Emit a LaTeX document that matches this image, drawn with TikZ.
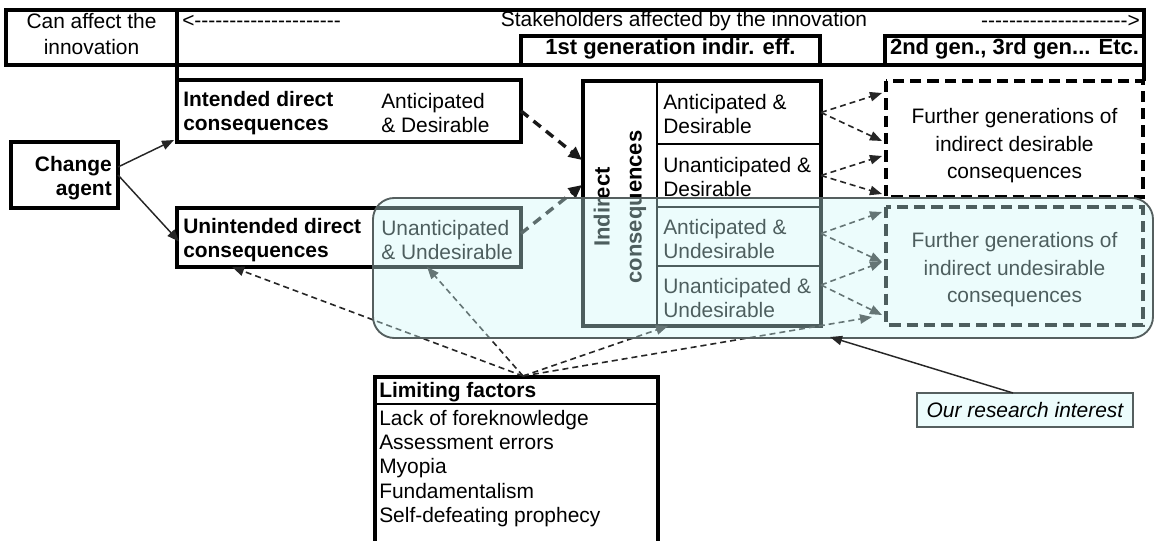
\documentclass[tikz,border=0pt]{standalone}
\usepackage{fontspec}
\setmainfont{Liberation Sans}
\usetikzlibrary{arrows.meta,calc,fit}
\definecolor{cyanfill}{RGB}{205,248,248}
\definecolor{bluebg}{RGB}{236,252,252}
\definecolor{rimgray}{RGB}{85,95,95}
\newcommand\fsz{\fontsize{15.7}{18}\selectfont}
\newcommand\hyp{-\kern0pt}
\newcommand\tenhyp{\hyp\hyp\hyp\hyp\hyp\hyp\hyp\hyp\hyp\hyp}
% named box: fit node + explicit border
\newcommand\bx[3]{\node[fit={#2}, inner sep=0pt, outer sep=0pt] (#1) {};
  \draw[#3] (#1.north west) rectangle (#1.south east);}
\begin{document}
\begin{tikzpicture}[x=0.75pt,y=-0.75pt,
  every node/.style={inner sep=0pt, font=\fsz},
  frame/.style={line width=2.5pt},
  thinframe/.style={line width=1.2pt},
  dframe/.style={line width=2.4pt, dash pattern=on 8.5pt off 4.5pt},
  txt/.style={anchor=west, align=left},
  boldtxt/.style={anchor=west, align=left, font=\fsz\bfseries},
  hdbold/.style={font=\fontsize{16.5}{18}\selectfont\bfseries},
  solidarr/.style={draw=black!85, line width=1.1pt, -{Triangle[length=9pt,width=7pt]}},
  thickdash/.style={draw=black!90, line width=2.6pt, dash pattern=on 7pt off 5pt, -{Triangle[length=10pt,width=9pt]}},
  thindash/.style={draw=black!85, line width=1.2pt, dash pattern=on 4.5pt off 3pt, -{Triangle[length=9pt,width=7pt]}},
]
\useasboundingbox (0,0) rectangle (1154,541);

% ---------- header ----------
\bx{header}{(6,10)(1144,65)}{frame}
\bx{affect}{(6,10)(177,65)}{frame}
\node (affect1) at (91.5,21) {Can affect the};
\node (affect2) at (91.5,47) {innovation};
\node[txt] (larr) at (182,21) {<\tenhyp\tenhyp\hyp};
\node (stake) at (684,21) {Stakeholders affected by the innovation};
\node[anchor=east] (rarr) at (1140,21) {\tenhyp\tenhyp\hyp>};
\bx{gen1}{(521,36)(820,65)}{frame}
\node[hdbold] (gen1t) at (670.5,49) {1st generation indir. eff.};
\bx{gen2}{(885,36)(1144,65)}{frame}
\node[hdbold] (gen2t) at (1014.5,49) {2nd gen., 3rd gen... Etc.};

% ---------- direct consequences ----------
\bx{change}{(11,142)(118,208)}{frame}
\node[anchor=east, align=right, font=\fsz\bfseries] (changet) at (112,178) {Change\\agent};

\bx{intended}{(177,80)(521,142)}{frame}
\node[boldtxt] (intt) at (183,113) {Intended direct\\consequences};
\node[txt] (intq) at (381,113) {Anticipated\\\& Desirable};

\bx{unintended}{(177,208)(521,267)}{frame}
\node[boldtxt] (unintt) at (183,240) {Unintended direct\\consequences};
\node[txt] (unintq) at (381,240) {Unanticipated\\\& Undesirable};

\draw[frame] (affect.south east) -- (intended.north west);
\draw[frame] (header.south east) -- ($(header.south east)+(0,16)$);

% ---------- indirect consequences ----------
\bx{r1}{(657,81)(821,144)}{thinframe}
\bx{r2}{(657,144)(821,207)}{thinframe}
\bx{r3}{(657,207)(821,266)}{thinframe}
\bx{r4}{(657,266)(821,326)}{thinframe}
\bx{indirect}{(583,81)(821,326)}{frame}
\node[rotate=90, align=center, font=\fontsize{16.5}{24}\selectfont\bfseries] (indt) at (620,207) {Indirect\\consequences};
\node[txt] (r1t) at (663,114) {Anticipated \&\\Desirable};
\node[txt] (r2t) at (663,177) {Unanticipated \&\\Desirable};
\node[txt] (r3t) at (663,239) {Anticipated \&\\Undesirable};
\node[txt] (r4t) at (663,298) {Unanticipated \&\\Undesirable};

% ---------- further generations ----------
\bx{further1}{(886,81)(1143,197)}{dframe}
\node[align=center, font=\fontsize{15.7}{20.6}\selectfont] (f1t) at (1014.5,146) {Further generations of\\indirect desirable\\consequences};
\bx{further2}{(886,207)(1143,325)}{dframe}
\node[align=center, font=\fontsize{15.7}{20.6}\selectfont] (f2t) at (1014.5,270) {Further generations of\\indirect undesirable\\consequences};

% ---------- limiting factors ----------
\bx{limits}{(375,377)(658,560)}{frame}
\draw[line width=1.4pt] ($(limits.north west)+(0,27)$) -- ($(limits.north east)+(0,27)$);
\node[boldtxt] (lfhead) at (379,392) {Limiting factors};
\node[anchor=north west, align=left, font=\fontsize{15.7}{18.2}\selectfont] (lfitems) at (379,410)
  {Lack of foreknowledge\\Assessment errors\\Myopia\\Fundamentalism\\Self-defeating prophecy};
\coordinate (lfsrc) at ($(limits.north west)+(148,-1)$);

% ---------- arrows ----------
\draw[solidarr] ($(change.east)+(0,-8)$) -- ($(intended.south west)+(-3,-2)$);
\draw[solidarr] (change.east) -- ($(unintended.west)+(2,4)$);

\draw[thickdash] (intended.east) -- ($(indirect.north west)+(-1,79)$);
\draw[thickdash] ($(unintended.east)+(0,-4)$) -- ($(indirect.north west)+(-1,104)$);

\draw[thindash] (r1.east) -- ($(further1.north west)+(-4,12)$);
\draw[thindash] (r1.east) -- ($(further1.north west)+(-4,60)$);
\draw[thindash] (r2.east) -- ($(further1.north west)+(-4,75)$);
\draw[thindash] (r2.east) -- ($(further1.north west)+(-4,113)$);
\draw[thindash] ($(r3.east)+(0,-3)$) -- ($(further2.north west)+(-4,5)$);
\draw[thindash] ($(r3.east)+(0,-3)$) -- ($(further2.north west)+(-4,55)$);
\draw[thindash] ($(r4.east)+(0,-11)$) -- ($(further2.north west)+(-4,55)$);
\draw[thindash] ($(r4.east)+(0,-11)$) -- ($(further2.north west)+(-4,108)$);

\draw[thindash] (lfsrc) -- ($(unintended.south west)!0.16!(unintended.south east)$);
\draw[thindash] (lfsrc) -- ($(unintended.south west)!0.727!(unintended.south east)$);
\draw[thindash] (lfsrc) -- ($(indirect.south west)+(85,0)$);
\draw[thindash] (lfsrc) -- ($(further2.south west)+(-14,-8)$);

% ---------- research interest overlay ----------
\node[fit={(373,198)(1153,338)}, inner sep=0pt, outer sep=0pt] (interest) {};
\fill[cyanfill, fill opacity=0.38, rounded corners=16pt] (interest.north west) rectangle (interest.south east);
\draw[rimgray, line width=1.4pt, rounded corners=16pt] (interest.north west) rectangle (interest.south east);
\node[fit={(917,393)(1133,427)}, inner sep=0pt, outer sep=0pt] (research) {};
\filldraw[fill=bluebg, draw=rimgray, line width=1pt] (research.north west) rectangle (research.south east);
\node[font=\fsz\itshape] (researcht) at (research.center) {Our research interest};
\coordinate (rtip) at ($(interest.south west)+(457,-1)$);
\draw[solidarr] ([xshift=-9pt]research.north) -- (rtip);
\end{tikzpicture}
\end{document}
